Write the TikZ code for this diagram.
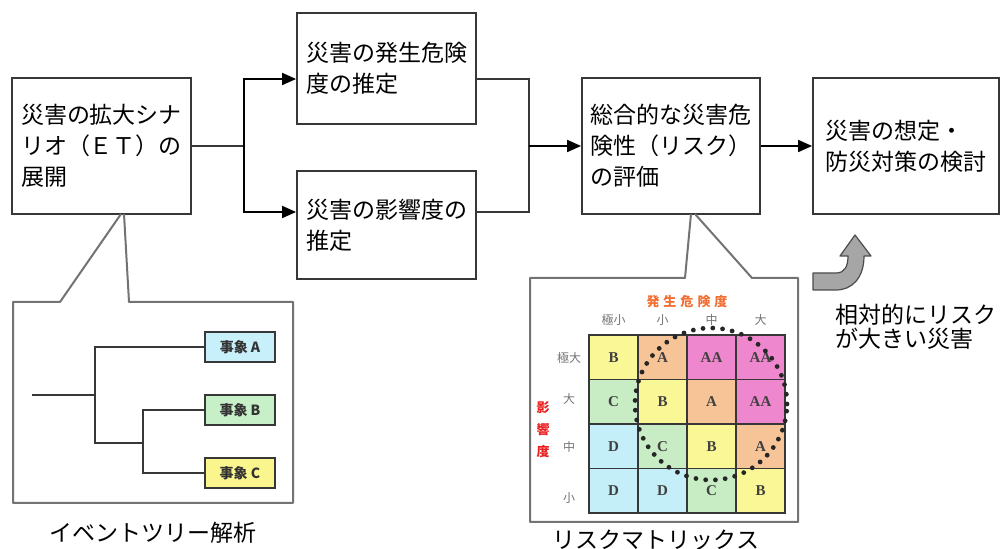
\documentclass[tikz,border=0pt]{standalone}
\usepackage{fontspec}
\setmainfont{Noto Sans CJK JP}
\newfontfamily\latinserif{Liberation Serif}
\usetikzlibrary{arrows.meta}
\definecolor{cellY}{RGB}{250,248,150}
\definecolor{cellO}{RGB}{246,196,150}
\definecolor{cellP}{RGB}{238,135,205}
\definecolor{cellG}{RGB}{200,236,196}
\definecolor{cellC}{RGB}{196,238,248}
\definecolor{evA}{RGB}{200,240,250}
\definecolor{evB}{RGB}{200,240,200}
\definecolor{evC}{RGB}{250,245,140}
\definecolor{hdrorange}{RGB}{242,110,50}
\definecolor{hdrred}{RGB}{235,30,30}
\definecolor{linegray}{RGB}{55,55,55}

\begin{document}
\begin{tikzpicture}[x=0.5pt, y=-0.5pt,
    procbox/.style={draw=linegray, line width=0.9pt, fill=white, align=left, inner xsep=4pt,
      font=\fontsize{11.5}{15.5}\selectfont},
    callout/.style={draw=black!55, line width=1pt, line join=round},
    tree/.style={draw=linegray, line width=0.9pt},
    evbox/.style={draw=linegray, line width=0.9pt, minimum width=35pt, minimum height=15pt,
      inner sep=0pt, font=\fontsize{7}{8}\selectfont\bfseries, text=black!80},
    cell/.style={draw=linegray, line width=0.9pt, minimum width=24.5pt, minimum height=22.25pt,
      inner sep=0pt, font=\latinserif\fontsize{7.5}{8}\selectfont\bfseries, text=black!75},
    ticklbl/.style={text=black!55, font=\fontsize{6}{7}\selectfont},
    flow/.style={draw=black, line width=0.9pt, -{Triangle[length=7pt,width=6pt]}},
    undertitle/.style={font=\fontsize{11.5}{14}\selectfont}
  ]
    \useasboundingbox (0,0) rectangle (1002,549);

    % main flow
    \node[procbox, minimum width=89.5pt, minimum height=68pt] (scen) at (101.5,146) {災害の拡大シナ\\リオ（ＥＴ）の\\展開};
    \node[procbox, minimum width=89.5pt, minimum height=55.5pt] (freq) at (386.5,68.5) {災害の発生危険\\度の推定};
    \node[procbox, minimum width=89.5pt, minimum height=54pt] (cons) at (386.5,225) {災害の影響度の\\推定};
    \node[procbox, minimum width=89pt, minimum height=68pt] (risk) at (671,146) {総合的な災害危\\険性（リスク）\\の評価};
    \node[procbox, minimum width=93pt, minimum height=68pt] (plan) at (906,146) {災害の想定・\\防災対策の検討};

    \coordinate (fork) at (244,146);
    \coordinate (merge) at (529,146);
    \draw[tree] (scen.east) -- (fork);
    \draw[flow] (fork) |- ([yshift=-5.25pt]freq.west);
    \draw[flow] (fork) |- ([yshift=6.5pt]cons.west);
    \draw[tree] ([yshift=-5.25pt]freq.east) -| (merge);
    \draw[tree] ([yshift=6.5pt]cons.east) -| (merge);
    \draw[flow] (merge) -- (risk.west);
    \draw[flow] (risk.east) -- (plan.west);

    % event tree callout
    \draw[callout] (121,214) -- (60,302) -- (13,302) -- (13,503) -- (293,503) -- (293,302) -- (129,302) -- (124,214);
    \node[evbox, fill=evA] (evA) at (240,347) {事象 A};
    \node[evbox, fill=evB] (evB) at (240,410) {事象 B};
    \node[evbox, fill=evC] (evC) at (240,473) {事象 C};
    \coordinate (root) at (32,395);
    \coordinate (k1) at (95,395);
    \coordinate (k2) at (143,443);
    \draw[tree] (root) -- (k1);
    \draw[tree] (evA.west) -| (k1) |- (k2);
    \draw[tree] (evB.west) -| (k2) |- (evC.west);
    \node[undertitle] (etlbl) at (153,533) {イベントツリー解析};

    % risk matrix callout
    \draw[callout] (691,214) -- (685,278) -- (530,278) -- (530,522) -- (798,522) -- (798,278) -- (752,278) -- (695,214);
    \node[font=\fontsize{6.5}{7}\selectfont\bfseries, text=hdrorange] (xttl) at (687,302)
      {発\hspace{2pt}生\hspace{2pt}危\hspace{2pt}険\hspace{2pt}度};
    \foreach \lbl [count=\k] in {極小,小,中,大}
      \node[ticklbl] (col\k) at ({613.5+49*(\k-1)},320) {\lbl};
    \foreach \lbl/\yy [count=\k] in {極大/358,大/399,中/447,小/498}
      \node[ticklbl] (row\k) at (569,\yy) {\lbl};
    \node[align=center, text=hdrred, font=\fontsize{6.5}{11}\selectfont\bfseries] (yttl) at (543,430) {影\\響\\度};
    \foreach \r/\line in {1/{cellY/B,cellO/A,cellP/AA,cellP/AA},
                          2/{cellG/C,cellY/B,cellO/A,cellP/AA},
                          3/{cellC/D,cellG/C,cellY/B,cellO/A},
                          4/{cellC/D,cellC/D,cellG/C,cellY/B}}
      \foreach \fc/\txt [count=\k] in \line
        \node[cell, fill=\fc] (m\r\k) at ({613.5+49*(\k-1)},{357.25+44.5*(\r-1)}) {\txt};
    \draw[black!85, line width=2.4pt, line cap=round, dash pattern=on 0pt off 4.9pt] (711,404) circle[radius=38pt];
    \node[undertitle] (rmlbl) at (656,540) {リスクマトリックス};

    % bent arrow and note
    \draw[draw=black!70, fill=black!35, line width=0.6pt, line join=round]
      (813,273) -- (836,273) .. controls (845,273) and (848,266) .. (848,256) -- (840,256) -- (855,235)
      -- (871,256) -- (864,256) .. controls (864,278) and (852,290) .. (836,290) -- (813,290) -- cycle;
    \node[anchor=west, align=left, font=\fontsize{11.5}{12}\selectfont] (note) at (828,327) {相対的にリスク\\が大きい災害};
\end{tikzpicture}
\end{document}
